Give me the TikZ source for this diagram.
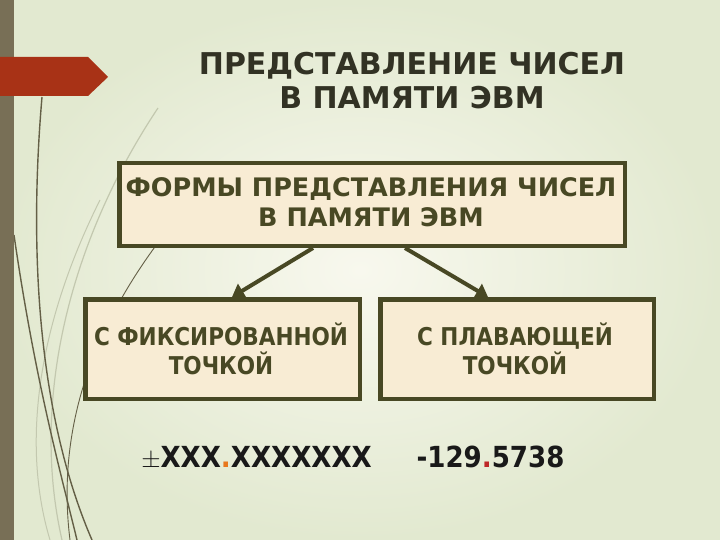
\documentclass[tikz,border=0pt]{standalone}
\usepackage{fontspec}
\setmainfont{DejaVu Sans}
\newfontfamily\narrowfont[FakeStretch=0.88]{DejaVu Sans}
\newfontfamily\numfont[FakeStretch=0.9]{DejaVu Sans}
\usetikzlibrary{arrows.meta}
\definecolor{bgout}{RGB}{226,233,208}
\definecolor{bgin}{RGB}{248,248,238}
\definecolor{barc}{RGB}{120,111,86}
\definecolor{redc}{RGB}{168,50,22}
\definecolor{olive}{RGB}{72,72,36}
\definecolor{boxfill}{RGB}{248,236,212}
\definecolor{titlec}{RGB}{50,50,36}
\definecolor{curvedark}{RGB}{100,95,70}
\definecolor{curvelight}{RGB}{195,200,175}
\definecolor{dotorange}{RGB}{232,120,30}
\definecolor{dotred}{RGB}{190,40,40}
\tikzset{
  formbox/.style={draw=olive, line width=4.5pt, fill=boxfill, inner sep=0pt},
  toptextstyle/.style={text=olive, font=\fontsize{25.5}{30}\selectfont\bfseries, align=center},
  lowtextstyle/.style={text=olive, font=\narrowfont\fontsize{24.5}{29}\selectfont\bfseries, align=center},
  titletext/.style={text=titlec, font=\fontsize{30}{34}\selectfont\bfseries, align=center},
  numtext/.style={text=black!90, font=\numfont\fontsize{29}{34}\selectfont\bfseries, anchor=base},
  conn/.style={draw=olive, line width=4pt, -{Triangle[length=12pt,width=16pt]}},
}
\begin{document}
\begin{tikzpicture}[x=1pt,y=-1pt]
\useasboundingbox (0,0) rectangle (720,540);
% background
\shade[inner color=bgin, outer color=bgout] (0,0) rectangle (720,540);
% decorative curves
\draw[curvelight, line width=1.2pt] (158,108) .. controls (70,240) and (30,400) .. (62,540);
\draw[curvelight, line width=1pt] (100,200) .. controls (40,320) and (20,440) .. (50,540);
\draw[curvedark, line width=1.4pt] (42,97) .. controls (28,260) and (40,420) .. (92,540);
\draw[curvedark, line width=1.4pt] (14,235) .. controls (35,380) and (60,470) .. (77,540);
\draw[curvedark, line width=0.9pt] (160,240) .. controls (100,320) and (55,420) .. (70,540);
% left bar
\fill[barc] (0,0) rectangle (14,540);
% red arrow
\fill[redc] (0,57) -- (88,57) -- (108,77) -- (88,96) -- (0,96) -- cycle;
% title
\node[titletext] (title) at (412,81) {ПРЕДСТАВЛЕНИЕ ЧИСЕЛ\\В ПАМЯТИ ЭВМ};
% boxes
\node[formbox, minimum width=505.5pt, minimum height=82.5pt] (top) at (372,204.5) {};
\node[toptextstyle] (toptext) at (371,202) {ФОРМЫ ПРЕДСТАВЛЕНИЯ ЧИСЕЛ\\В ПАМЯТИ ЭВМ};
\node[formbox, minimum width=274.5pt, minimum height=99.5pt] (left) at (222.5,349) {};
\node[lowtextstyle] (lefttext) at (221,349) {С ФИКСИРОВАННОЙ\\ТОЧКОЙ};
\node[formbox, minimum width=273.5pt, minimum height=99.5pt] (right) at (517,349) {};
\node[lowtextstyle] (righttext) at (515,349) {С ПЛАВАЮЩЕЙ\\ТОЧКОЙ};
% connectors
\coordinate (a1) at (313,248);
\coordinate (a2) at (405,248);
\draw[conn] (a1) -- (left.north -| 232,0);
\draw[conn] (a2) -- (right.north -| 488,0);
% numbers
\node[numtext] (fixnum) at (256.5,467) {$\pm$XXX{\color{dotorange}.}XXXXXXX};
\node[numtext] (floatnum) at (490.5,467) {-129{\color{dotred}.}5738};
\end{tikzpicture}
\end{document}
